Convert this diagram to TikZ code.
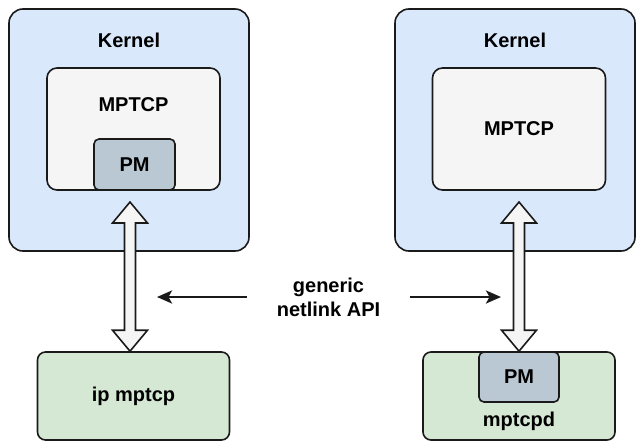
\documentclass[tikz,border=0pt]{standalone}
\usepackage{fontspec}
\setmainfont{Liberation Sans}
\usepackage{tikz}
\usetikzlibrary{arrows.meta,calc}

\definecolor{kblue}{HTML}{DAE8FC}
\definecolor{cgray}{HTML}{F5F5F5}
\definecolor{pmblue}{HTML}{BAC8D3}
\definecolor{ugreen}{HTML}{D5E8D4}
\definecolor{edge}{HTML}{1A1A1A}

% hollow double arrow between two named points
\newcommand\dblarr[2]{%
  \draw[blk] let \p1=(#1), \p2=(#2) in
    (\x1,\y1) -- (\x1+17.5pt,\y1-21pt) -- (\x1+5.5pt,\y1-21pt)
    -- (\x1+5.5pt,\y2+21pt) -- (\x1+17.5pt,\y2+21pt) -- (\x1,\y2)
    -- (\x1-17.5pt,\y2+21pt) -- (\x1-5.5pt,\y2+21pt)
    -- (\x1-5.5pt,\y1-21pt) -- (\x1-17.5pt,\y1-21pt) -- cycle;}

\begin{document}
\begin{tikzpicture}[x=1pt, y=-1pt, font=\bfseries\fontsize{20}{24}\selectfont,
  st/.style={draw=edge, line width=1.6pt, inner sep=0pt, align=center},
  kern/.style={st, fill=kblue, rounded corners=14pt,
               minimum width=240pt, minimum height=242pt},
  core/.style={st, fill=cgray, rounded corners=10pt,
               minimum width=173pt, minimum height=122pt},
  pm/.style={st, fill=pmblue, rounded corners=5pt,
             minimum width=81pt, minimum height=51pt},
  usr/.style={st, fill=ugreen, rounded corners=8pt,
              minimum width=192pt, minimum height=88pt},
  blk/.style={draw=edge, line width=1.6pt, fill=cgray, line join=miter},
  arr/.style={-{Stealth[length=15pt, width=13pt, inset=3.5pt]}, line width=2.6pt, edge}]

\useasboundingbox (0,0) rectangle (636,442);

% kernel side
\node[kern] (kernL) at (129,130) {};
\node[kern] (kernR) at (515,130) {};
\node (kernLt) at (129,40) {Kernel};
\node (kernRt) at (515,40) {Kernel};
\node[core] (mptL) at (133.5,129) {};
\node (mptLt) at (133.5,105) {MPTCP};
\node[core] (mptR) at (519,129) {MPTCP};
\node[pm] (pmL) at (134.5,164.5) {PM};

% user space
\node[usr] (ipL) at (133.5,396) {ip mptcp};
\node[usr] (dR) at (519,396) {};
\node[pm, minimum width=80pt, minimum height=50pt] (pmR) at (519,377) {PM};
\node (dRt) at (519,421) {mptcpd};

% kernel <-> user
\coordinate (aLt) at (130,202);
\coordinate (aRt) at (519,202);
\dblarr{aLt}{ipL.north -| aLt}
\dblarr{aRt}{pmR.north}

% netlink
\node[minimum width=163pt, align=center] (api) at (328.5,297) {generic\\netlink API};
\coordinate (gL) at (157,297);
\coordinate (gR) at (501,297);
\draw[arr] (api.west) -- (gL);
\draw[arr] (api.east) -- (gR);
\end{tikzpicture}
\end{document}
